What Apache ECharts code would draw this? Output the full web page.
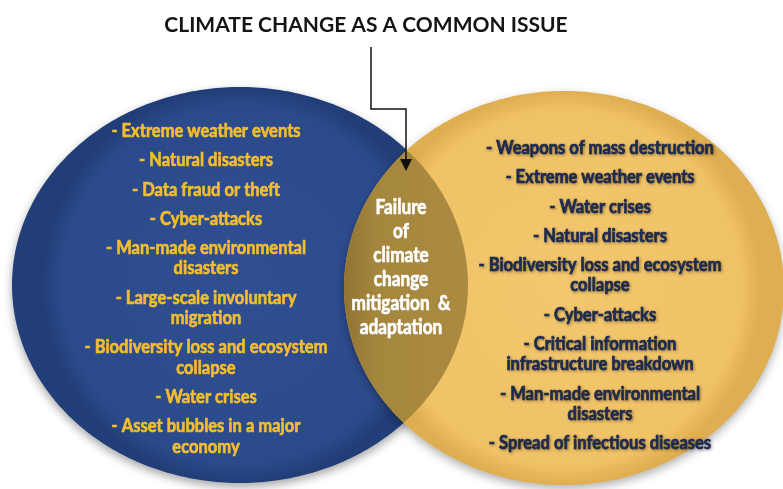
<!DOCTYPE html>
<html>
<head>
<meta charset="utf-8">
<script src="https://cdn.jsdelivr.net/npm/echarts@6/dist/echarts.min.js"></script>
<style>
html,body{margin:0;padding:0;background:#fff;}
#chart{width:783px;height:489px;}
</style>
</head>
<body>
<div id="chart"></div>
<script>
// ---- data ----
var titleText = 'CLIMATE CHANGE AS A COMMON ISSUE';
var leftItems = [
  '- Extreme weather events',
  '- Natural disasters',
  '- Data fraud or theft',
  '- Cyber-attacks',
  '- Man-made environmental\ndisasters',
  '- Large-scale involuntary\nmigration',
  '- Biodiversity loss and ecosystem\ncollapse',
  '- Water crises',
  '- Asset bubbles in a major\neconomy'
];
var rightItems = [
  '- Weapons of mass destruction',
  '- Extreme weather events',
  '- Water crises',
  '- Natural disasters',
  '- Biodiversity loss and ecosystem\ncollapse',
  '- Cyber-attacks',
  '- Critical information\ninfrastructure breakdown',
  '- Man-made environmental\ndisasters',
  '- Spread of infectious diseases'
];
var sharedItem = 'Failure\nof\nclimate\nchange\nmitigation  &\nadaptation';

// ---- layout (pixel space of the hidden axes) ----
var W = 783, H = 489;
var leftEll  = {cx: 240, cy: 285, rx: 228, ry: 198};
var rightEll = {cx: 564, cy: 288, rx: 220, ry: 197};
var listFont = 'bold 19px Lato, Roboto, "Liberation Sans", sans-serif';
var narrow = 0.87;

function ellPts(e, api, filter) {
  var pts = [];
  for (var i = 0; i < 360; i++) {
    var t = i / 360 * Math.PI * 2;
    var x = e.cx + e.rx * Math.cos(t), y = e.cy + e.ry * Math.sin(t);
    if (!filter || filter(x, y, t)) pts.push({t: t, p: api.coord([x, y])});
  }
  return pts;
}
function inside(e, x, y) {
  var dx = (x - e.cx) / e.rx, dy = (y - e.cy) / e.ry;
  return dx * dx + dy * dy <= 1;
}
function textEl(ln, p, color, font, shadow, sx) {
  var st = {text: ln, x: 0, y: 0, fill: color, font: font, align: 'center', verticalAlign: 'middle',
    stroke: color, lineWidth: 0.7};
  if (shadow) { st.textShadowColor = 'rgba(0,0,0,0.35)'; st.textShadowBlur = 3; st.textShadowOffsetX = 1; st.textShadowOffsetY = 1; }
  return {type: 'text', x: p[0], y: p[1], scaleX: sx, scaleY: 1, style: st};
}
function listTexts(items, cx, y0, color, shadow, api) {
  var els = [];
  var y = y0;
  items.forEach(function (s) {
    var lines = s.split('\n');
    lines.forEach(function (ln, k) {
      els.push(textEl(ln, api.coord([cx, y]), color, listFont, shadow, narrow));
      if (k < lines.length - 1) y += 20.5;
    });
    y += 29.2;
  });
  return els;
}

function renderItem(params, api) {
  var idx = params.dataIndex;
  if (idx === 0) {
    var pts = ellPts(leftEll, api).map(function (o) { return o.p; });
    return {type: 'group', children: [{
      type: 'polygon', shape: {points: pts},
      style: {
        fill: new echarts.graphic.RadialGradient(0.5, 0.5, 0.5, [
          {offset: 0, color: '#2f4f92'}, {offset: 0.9, color: '#2b4a8b'}, {offset: 1, color: '#223e78'}]),
        shadowBlur: 10, shadowColor: 'rgba(0,0,0,0.35)', shadowOffsetY: 4
      }
    }].concat(listTexts(leftItems, 206, 131, '#f2bd2e', false, api))};
  }
  if (idx === 1) {
    var pts2 = ellPts(rightEll, api).map(function (o) { return o.p; });
    return {type: 'group', children: [{
      type: 'polygon', shape: {points: pts2},
      style: {
        fill: new echarts.graphic.RadialGradient(0.5, 0.5, 0.5, [
          {offset: 0, color: '#f3c76e'}, {offset: 0.9, color: '#f0c266'}, {offset: 1, color: '#dfae50'}]),
        shadowBlur: 10, shadowColor: 'rgba(0,0,0,0.3)', shadowOffsetY: 4
      }
    }].concat(listTexts(rightItems, 600, 148, '#1d2a50', true, api))};
  }
  // lens + arrow
  var a = ellPts(leftEll, api, function (x, y) { return inside(rightEll, x, y); });
  a.forEach(function (o) { if (o.t > Math.PI) o.t -= 2 * Math.PI; });
  a.sort(function (u, v) { return u.t - v.t; });
  var b = ellPts(rightEll, api, function (x, y) { return inside(leftEll, x, y); });
  b.sort(function (u, v) { return u.t - v.t; });
  var lens = a.map(function (o) { return o.p; }).concat(b.map(function (o) { return o.p; }));
  var lensLines = sharedItem.split('\n');
  var lensEls = lensLines.map(function (ln, k) {
    return textEl(ln, api.coord([401, 208 + k * 24]), '#ffffff', 'bold 20px Lato, Roboto, "Liberation Sans", sans-serif', false, 0.86);
  });
  var arrowPts = [[371, 47], [371, 109], [406, 109], [406, 160]].map(function (q) { return api.coord(q); });
  var head = [[400, 159], [412, 159], [406, 171]].map(function (q) { return api.coord(q); });
  return {type: 'group', children: [
    {type: 'polygon', shape: {points: lens}, style: {
      fill: new echarts.graphic.LinearGradient(0, 0, 1, 0, [
        {offset: 0, color: '#917433'}, {offset: 0.25, color: '#a5863d'}, {offset: 1, color: '#aa8b41'}])}}
  ].concat(lensEls).concat([
    {type: 'polyline', shape: {points: arrowPts}, style: {stroke: '#111', lineWidth: 1.5, fill: null}},
    {type: 'polygon', shape: {points: head}, style: {fill: '#111'}}
  ])};
}

var chart = echarts.init(document.getElementById('chart'), null, {renderer: 'canvas'});
chart.setOption({
  backgroundColor: '#ffffff',
  animation: false,
  title: {text: titleText, left: 361, top: 10, textAlign: 'center',
    textStyle: {fontFamily: 'Lato, "Open Sans", sans-serif', fontWeight: 'bold', fontSize: 21, color: '#141414'}},
  grid: {left: 0, right: 0, top: 0, bottom: 0},
  xAxis: {type: 'value', min: 0, max: W, show: false},
  yAxis: {type: 'value', min: 0, max: H, inverse: true, show: false},
  series: [{
    type: 'custom',
    renderItem: renderItem,
    data: [[0], [1], [2]],
    silent: true
  }]
});
</script>
</body>
</html>
